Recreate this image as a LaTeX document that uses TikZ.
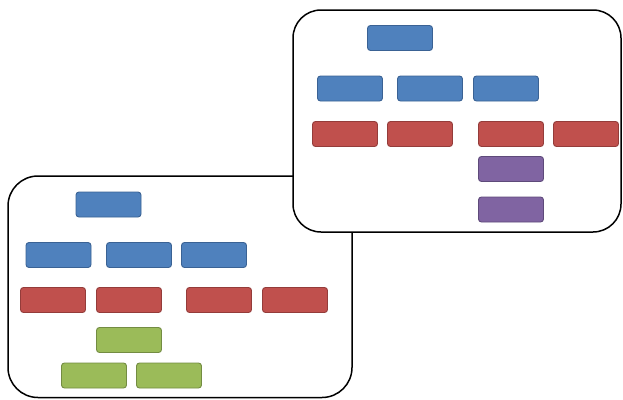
\documentclass[tikz,border=0pt]{standalone}
\usetikzlibrary{positioning}

\definecolor{orgblue}{HTML}{4F81BD}
\definecolor{orgblueline}{HTML}{3A6294}
\definecolor{orgred}{HTML}{C0504D}
\definecolor{orgredline}{HTML}{943C3A}
\definecolor{orgpurple}{HTML}{8064A2}
\definecolor{orgpurpleline}{HTML}{5E4A7A}
\definecolor{orggreen}{HTML}{9BBB59}
\definecolor{orggreenline}{HTML}{738C42}

\tikzset{
  unit/.style={draw, rounded corners=3pt, line width=0.9pt,
    minimum width=65pt, minimum height=25pt, inner sep=0pt},
  bluebox/.style={unit, fill=orgblue, draw=orgblueline},
  redbox/.style={unit, fill=orgred, draw=orgredline},
  purplebox/.style={unit, fill=orgpurple, draw=orgpurpleline},
  greenbox/.style={unit, fill=orggreen, draw=orggreenline},
  frame/.style={draw=black, fill=white, line width=1.5pt}
}

\begin{document}
\begin{tikzpicture}[x=1pt, y=-1pt]
  \useasboundingbox (0,0) rectangle (623,399);

  % the two charts
  \draw[frame, rounded corners=30pt] (8,176) rectangle (352,397.5);
  \draw[frame, rounded corners=28pt] (293,10) rectangle (621,232);

  % upper chart
  \node[bluebox] (ut) at (400,38) {};
  \node[bluebox] (ua) at (350,88.5) {};
  \node[bluebox] (ub) at (430,88.5) {};
  \node[bluebox] (uc) at (506,88.5) {};
  \node[redbox] (ur1) at (345,134) {};
  \node[redbox] (ur2) at (420,134) {};
  \node[redbox] (ur3) at (511,134) {};
  \node[redbox] (ur4) at (586,134) {};
  \node[purplebox] (up1) at (511,169) {};
  \node[purplebox] (up2) at (511,209.5) {};

  % lower chart
  \node[bluebox] (lt) at (108.5,204.5) {};
  \node[bluebox] (la) at (58.5,255) {};
  \node[bluebox] (lb) at (139,255) {};
  \node[bluebox] (lc) at (214,255) {};
  \node[redbox] (lr1) at (53,300) {};
  \node[redbox] (lr2) at (129,300) {};
  \node[redbox] (lr3) at (219,300) {};
  \node[redbox] (lr4) at (295,300) {};
  \node[greenbox] (lg1) at (129,340) {};
  \node[greenbox] (lg2) at (94,375.5) {};
  \node[greenbox] (lg3) at (169,375.5) {};
\end{tikzpicture}
\end{document}
